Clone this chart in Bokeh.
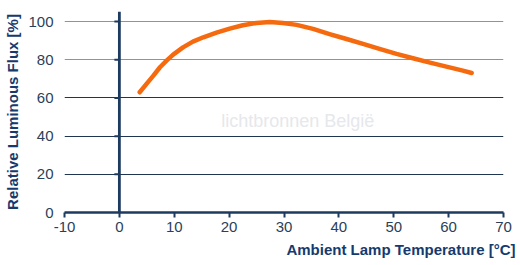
import math
from bokeh.plotting import figure
from bokeh.models import Range1d, Span, Label, Grid, FixedTicker, Title
from bokeh.embed import file_html
from bokeh.resources import INLINE

# Data
temperature = [3.7, 4.95, 6.2, 7.4, 8.6, 9.8, 11.6, 13.4, 15.3, 17.7, 20.1, 22.5, 25.0,
               27.4, 29.8, 32.3, 35.3, 38.3, 41.4, 44.4, 47.4, 50.5, 53.5, 56.6, 59.6,
               62.6, 64.2]
rel_flux = [63.0, 67.4, 71.7, 76.1, 79.6, 82.7, 86.5, 89.5, 91.8, 94.2, 96.3, 98.1, 99.3,
            99.8, 99.3, 98.3, 96.2, 93.5, 90.9, 88.3, 85.7, 83.1, 80.8, 78.5, 76.4,
            74.3, 73.1]
x_ticks = [-10, 0, 10, 20, 30, 40, 50, 60, 70]
y_ticks = [0, 20, 40, 60, 80, 100]
x_title = "Ambient Lamp Temperature [°C]"
y_title = "Relative Luminous Flux [%]"
watermark = "lichtbronnen België"

FONT = "Liberation Sans"
NAVY = "#1c3b5e"
LABEL = "#2a3f5a"
TITLE = "#163a6e"

p = figure(width=520, height=265, output_backend="svg", toolbar_location=None,
           x_range=Range1d(-10, 70), y_range=Range1d(0, 105.3),
           min_border_left=64, min_border_right=17, min_border_top=11, min_border_bottom=53)
p.outline_line_color = None
p.background_fill_color = "white"
p.border_fill_color = "white"

# x axis
p.xaxis.ticker = FixedTicker(ticks=x_ticks)
p.xaxis.major_label_overrides = {t: str(t) for t in x_ticks}
p.xaxis.axis_line_color = NAVY
p.xaxis.axis_line_width = 2.5
p.xaxis.major_tick_line_color = NAVY
p.xaxis.major_tick_line_width = 2
p.xaxis.major_tick_out = 5
p.xaxis.major_tick_in = 0
p.xaxis.minor_tick_line_color = None
p.xaxis.major_label_standoff = 4
p.xaxis.major_label_text_font = FONT
p.xaxis.major_label_text_font_size = "15px"
p.xaxis.major_label_text_color = LABEL

# x title, right aligned below the axis
p.add_layout(Title(text=x_title, align="right", offset=-12, standoff=9,
                   text_font=FONT, text_font_size="15px", text_font_style="bold",
                   text_color=TITLE), "below")

# y axis (labels only at left)
p.yaxis.ticker = FixedTicker(ticks=y_ticks)
p.yaxis.axis_line_color = None
p.yaxis.major_tick_line_color = None
p.yaxis.minor_tick_line_color = None
p.yaxis.major_label_standoff = 5
p.yaxis.major_label_text_font = FONT
p.yaxis.major_label_text_font_size = "15px"
p.yaxis.major_label_text_color = LABEL
p.yaxis.axis_label = y_title
p.yaxis.axis_label_text_font = FONT
p.yaxis.axis_label_text_font_size = "15px"
p.yaxis.axis_label_text_font_style = "bold"
p.yaxis.axis_label_text_color = TITLE
p.yaxis.axis_label_standoff = 4

# grids
p.xgrid.grid_line_color = None
p.ygrid.ticker = FixedTicker(ticks=[t for t in y_ticks if 0 < t <= 60])
p.ygrid.grid_line_color = "#1f3550"
p.ygrid.grid_line_width = 1.2
g2 = Grid(dimension=1, ticker=FixedTicker(ticks=[t for t in y_ticks if t > 60]),
          grid_line_color="#8896a4", grid_line_width=1.2)
p.add_layout(g2)

# vertical axis line at x = 0 with small ticks to the left
p.add_layout(Span(location=0, dimension="height", line_color=NAVY, line_width=2.8))
tick_vals = [t for t in y_ticks if t > 0]
p.ray(x=[0] * len(tick_vals), y=tick_vals, length=5, length_units="screen",
      angle=math.pi, line_color=NAVY, line_width=2)

# watermark
p.add_layout(Label(x=32.5, y=48, text=watermark, text_align="center", text_baseline="middle",
                   text_font=FONT, text_font_size="18px", text_color="#e6e8ec"))

# curve
p.line(temperature, rel_flux, line_color="#f56a0f", line_width=4.5, line_cap="round",
       line_join="round")

open("out.html", "w").write(file_html(p, INLINE))
